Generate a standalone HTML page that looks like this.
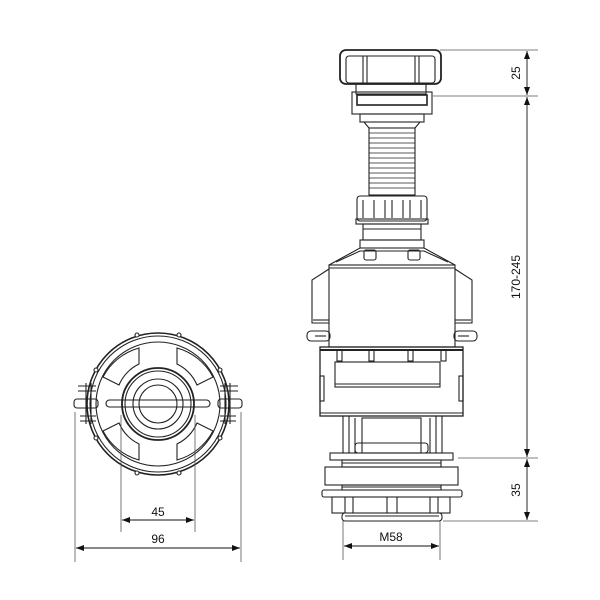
<!DOCTYPE html>
<html><head><meta charset="utf-8"><style>
html,body{margin:0;padding:0;background:#fff;width:600px;height:600px;overflow:hidden}
svg{display:block}
text{font-family:"Liberation Sans",sans-serif;font-size:12px;fill:#111}
</style></head><body>
<svg width="600" height="600" viewBox="0 0 600 600" xmlns="http://www.w3.org/2000/svg">
<defs>
<marker id="a" markerWidth="8" markerHeight="6" refX="8" refY="3" orient="auto-start-reverse" markerUnits="userSpaceOnUse"><path d="M0,0 L8,3 L0,6 z" fill="#111"/></marker>
</defs>
<g fill="none" stroke="#222" stroke-width="1.1">
<rect x="340" y="50" width="101" height="34" rx="6" stroke-width="1.8"/>
<rect x="346" y="56" width="89" height="27" rx="3"/>
<line x1="363" y1="56" x2="363" y2="83"/><line x1="367" y1="56" x2="367" y2="83"/>
<line x1="415" y1="56" x2="415" y2="83"/><line x1="419" y1="56" x2="419" y2="83"/>
<rect x="356" y="84" width="70" height="10"/>
<rect x="352" y="92" width="80" height="22"/>
<rect x="357" y="95" width="70" height="10" stroke-width="1.6"/>
<rect x="360" y="114" width="64" height="8"/>
<path d="M364,122 L369,128 L415,128 L420,122"/>
<rect x="369" y="128" width="46" height="67"/>
<g stroke-width="0.8">
<line x1="369" y1="133" x2="415" y2="133"/><line x1="369" y1="138" x2="415" y2="138"/>
<line x1="369" y1="143" x2="415" y2="143"/><line x1="369" y1="148" x2="415" y2="148"/>
<line x1="369" y1="153" x2="415" y2="153"/><line x1="369" y1="158" x2="415" y2="158"/>
<line x1="369" y1="163" x2="415" y2="163"/><line x1="369" y1="168" x2="415" y2="168"/>
<line x1="369" y1="173" x2="415" y2="173"/><line x1="369" y1="178" x2="415" y2="178"/>
<line x1="369" y1="183" x2="415" y2="183"/><line x1="369" y1="188" x2="415" y2="188"/>
</g>
<rect x="357" y="196" width="70" height="25" rx="3"/>
<rect x="356" y="219" width="72" height="5"/>
<line x1="363" y1="200" x2="363" y2="218"/><line x1="374" y1="200" x2="374" y2="218"/>
<line x1="385" y1="200" x2="385" y2="218"/><line x1="392" y1="200" x2="392" y2="218"/>
<line x1="403" y1="200" x2="403" y2="218"/><line x1="410" y1="200" x2="410" y2="218"/>
<line x1="421" y1="200" x2="421" y2="218"/>
<rect x="363" y="224" width="58" height="16"/>
<line x1="363" y1="229" x2="421" y2="229"/>
<rect x="360" y="240" width="64" height="8"/>
<path d="M360,248 L424,248 L455,265 L329,265 Z"/>
<path d="M336,262 L360,251 L424,251 L448,262"/>
<rect x="364" y="250" width="12" height="10" rx="2"/><rect x="408" y="250" width="12" height="10" rx="2"/>
<rect x="329" y="265" width="126" height="82"/>
<line x1="329" y1="268" x2="455" y2="268"/>
<path d="M329,269 L312,280 L312,323 L329,323"/><line x1="313" y1="320" x2="329" y2="320"/>
<path d="M455,269 L472,280 L472,323 L455,323"/><line x1="455" y1="320" x2="471" y2="320"/>
<rect x="307" y="331" width="23" height="10" rx="4"/><line x1="315" y1="336" x2="326" y2="336"/>
<rect x="454" y="331" width="23" height="10" rx="4"/><line x1="458" y1="336" x2="469" y2="336"/>
<rect x="320" y="347" width="143" height="69" stroke-width="1.3"/>
<line x1="320" y1="350" x2="463" y2="350" stroke-width="2"/>
<line x1="320" y1="413" x2="463" y2="413"/>
<rect x="335" y="362" width="105" height="25"/>
<line x1="335" y1="384" x2="440" y2="384"/>
<rect x="337" y="350" width="5" height="11"/><rect x="369" y="350" width="5" height="11"/>
<rect x="408" y="350" width="5" height="11"/><rect x="441" y="350" width="5" height="11"/>
<rect x="320" y="376" width="4" height="25"/><rect x="459" y="376" width="4" height="25"/>
<path d="M343,416 L343,453 M349,416 L349,453 M355,418 L355,453"/>
<path d="M442,416 L442,453 M436,416 L436,453 M430,418 L430,453"/>
<rect x="362" y="418" width="59" height="35"/>
<rect x="355" y="443" width="73" height="10" rx="3"/>
<rect x="330" y="453" width="123" height="7"/>
<rect x="342" y="460" width="99" height="7"/>
<line x1="342" y1="463" x2="441" y2="463"/>
<rect x="325" y="467" width="133" height="18"/>
<rect x="342" y="485" width="99" height="5"/>
<line x1="342" y1="487" x2="441" y2="487"/>
<rect x="322" y="490" width="140" height="7" rx="2"/>
<rect x="332" y="497" width="118" height="16"/>
<line x1="345" y1="497" x2="345" y2="513"/><line x1="353" y1="497" x2="353" y2="513"/>
<line x1="387" y1="497" x2="387" y2="513"/><line x1="397" y1="497" x2="397" y2="513"/>
<line x1="430" y1="497" x2="430" y2="513"/><line x1="438" y1="497" x2="438" y2="513"/>
<rect x="342" y="513" width="100" height="8" rx="3"/>
<line x1="345" y1="516" x2="439" y2="516"/>

<circle cx="158" cy="404" r="71" stroke-width="1.6"/>
<circle cx="158" cy="404" r="68"/>
<circle cx="158" cy="404" r="62"/>
<circle cx="158" cy="404" r="36" stroke-width="1.8"/>
<circle cx="158" cy="404" r="33"/>
<circle cx="158" cy="404" r="25"/>
<circle cx="158" cy="404" r="19"/>
<path d="M139,348 A58,58 0 0 0 103,377 L119,385 A42,42 0 0 1 139,364 Z"/>
<path d="M177,348 A58,58 0 0 1 213,377 L197,385 A42,42 0 0 0 177,364 Z"/>
<path d="M139,460 A58,58 0 0 1 103,431 L119,423 A42,42 0 0 0 139,444 Z"/>
<path d="M177,460 A58,58 0 0 0 213,431 L197,423 A42,42 0 0 1 177,444 Z"/>
<rect x="106" y="400" width="104" height="7" rx="3.5"/>
<path d="M78,386 L96,386 M78,391 L96,391 M80,416 L96,416 M80,421 L96,421"/>
<rect x="74" y="399" width="24" height="9" rx="3"/>
<path d="M86,383 L86,424 M91,383 L91,424"/>
<path d="M238,386 L220,386 M238,391 L220,391 M236,416 L220,416 M236,421 L220,421"/>
<rect x="218" y="399" width="24" height="9" rx="3"/>
<path d="M225,383 L225,424 M230,383 L230,424"/>
<g fill="#fff"><circle cx="137" cy="335" r="2"/><circle cx="179" cy="335" r="2"/><circle cx="137" cy="473" r="2"/><circle cx="179" cy="473" r="2"/><circle cx="96" cy="370" r="2"/><circle cx="220" cy="370" r="2"/><circle cx="96" cy="438" r="2"/><circle cx="220" cy="438" r="2"/></g>
</g>

<g stroke="#555" stroke-width="0.8" fill="none">
<line x1="440" y1="50" x2="538" y2="50"/>
<line x1="433" y1="96" x2="538" y2="96"/>
<line x1="458" y1="458" x2="538" y2="458"/>
<line x1="443" y1="521" x2="538" y2="521"/>
<line x1="343" y1="521" x2="343" y2="560"/>
<line x1="440" y1="521" x2="440" y2="560"/>
<line x1="121" y1="415" x2="121" y2="532"/>
<line x1="195" y1="415" x2="195" y2="532"/>
<line x1="75" y1="412" x2="75" y2="562"/>
<line x1="241" y1="412" x2="241" y2="562"/>
</g>
<g stroke="#111" stroke-width="0.9" fill="none">
<line x1="527" y1="51" x2="527" y2="95" marker-start="url(#a)" marker-end="url(#a)"/>
<line x1="527" y1="97" x2="527" y2="457" marker-start="url(#a)" marker-end="url(#a)"/>
<line x1="527" y1="459" x2="527" y2="520" marker-start="url(#a)" marker-end="url(#a)"/>
<line x1="344" y1="546" x2="439" y2="546" marker-start="url(#a)" marker-end="url(#a)"/>
<line x1="122" y1="520" x2="194" y2="520" marker-start="url(#a)" marker-end="url(#a)"/>
<line x1="76" y1="548" x2="240" y2="548" marker-start="url(#a)" marker-end="url(#a)"/>
</g>
<text x="520" y="73" transform="rotate(-90 520 73)" text-anchor="middle">25</text>
<text x="520" y="277" transform="rotate(-90 520 277)" text-anchor="middle">170-245</text>
<text x="520" y="490" transform="rotate(-90 520 490)" text-anchor="middle">35</text>
<text x="391" y="541" text-anchor="middle">M58</text>
<text x="158" y="516" text-anchor="middle">45</text>
<text x="158" y="543" text-anchor="middle">96</text>
</svg>
</body></html>
